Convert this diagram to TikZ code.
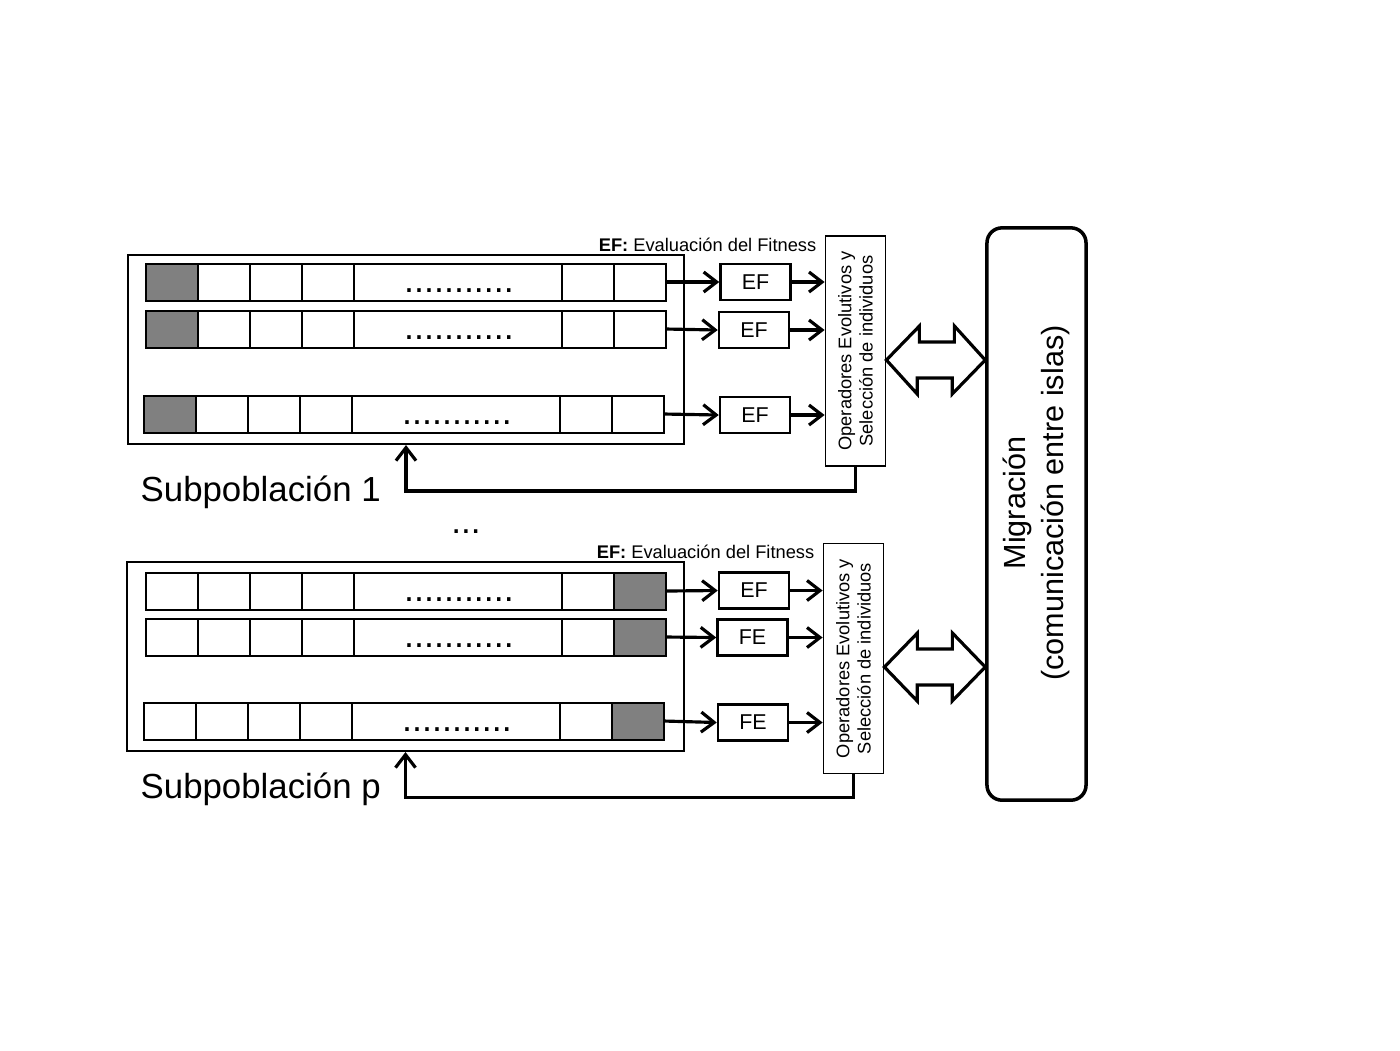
\documentclass[tikz,border=0pt]{standalone}
\usepackage{fontspec}
\setmainfont{Liberation Sans}
\usetikzlibrary{arrows.meta}
\newcommand{\fila}[4]{
\fill[black!50](#2+#4,#3)--(#2+#4+52,#3)--(#2+#4+52,#3+37)--(#2+#4,#3+37)--cycle;
\foreach \a/\b in {0/52,52/104,104/156,156/208,208/416,416/468,468/520}
 \draw[celda](#2+\a,#3)--(#2+\b,#3)--(#2+\b,#3+37)--(#2+\a,#3+37)--cycle;
\node[puntos] at (#2+313,#3+28) {...........};
\coordinate (#1) at (#2+520,#3+18);
}
\begin{document}
\begin{tikzpicture}[x=0.01cm,y=-0.01cm,
 celda/.style={line width=0.7pt},
 puntos/.style={anchor=base,inner sep=0pt,font=\fontsize{10.2}{12}\selectfont},
 caja/.style={draw,line width=0.55pt,inner sep=0pt,minimum width=5.56cm,minimum height=1.89cm},
 efcaja/.style={draw,line width=0.7pt,minimum width=0.7cm,minimum height=0.36cm,inner sep=0pt,font=\fontsize{6.1}{7}\selectfont},
 opcaja/.style={draw,line width=0.5pt,rotate=90,align=center,inner sep=0pt,minimum width=2.3cm,minimum height=0.6cm,font=\fontsize{5.2}{6}\selectfont},
 flecha/.style={line width=0.9pt,-{Straight Barb[length=1.3mm,width=2mm]}},
 bloque/.style={line width=0.9pt,line join=miter},
 titulo/.style={anchor=base west,inner sep=0pt,font=\fontsize{9.9}{12}\selectfont},
 nota/.style={anchor=base east,inner sep=0pt,font=\fontsize{5.2}{6}\selectfont}]

\useasboundingbox (0,0) rectangle (1400,1050);

% subpoblacion 1
\node[caja] (caja1) at (406,349.5) {};
\fila{r1}{146}{264}{0}
\fila{r2}{146}{311}{0}
\fila{r3}{144}{396}{0}

\node[efcaja] (ef1) at (755.5,282) {EF};
\node[efcaja] (ef2) at (754,330) {EF};
\node[efcaja] (ef3) at (755,415) {EF};

\node[opcaja] (ops1) at (855.5,351) {Operadores Evolutivos y\\Selección de individuos};
\node[nota] (nota1) at (817,251) {\textbf{EF:} Evaluación del Fitness};

\foreach \i in {1,2,3}{
\draw[flecha] (r\i) -- (ef\i.west);
\draw[flecha] (ef\i.east) -- (ef\i.east -| ops1.north);
}
\draw[flecha] (ops1.west) -- ++(0,24) -| (caja1.south);
\node[titulo] (sub1) at (140,501) {Subpoblación 1};

\node[anchor=base,inner sep=0pt,font=\fontsize{10}{12}\selectfont] (etc) at (466,533) {...};

% subpoblacion p
\node[caja] (caja2) at (405.5,656.5) {};
\fila{s1}{146}{573}{468}
\fila{s2}{146}{619}{468}
\fila{s3}{144}{703}{468}

\node[efcaja] (fe1) at (754,590.5) {EF};
\node[efcaja] (fe2) at (752.5,637.5) {FE};
\node[efcaja] (fe3) at (753,722.5) {FE};

\node[opcaja] (ops2) at (853.5,658.5) {Operadores Evolutivos y\\Selección de individuos};
\node[nota] (nota2) at (815,558) {\textbf{EF:} Evaluación del Fitness};

\foreach \i in {1,2,3}{
\draw[flecha] (s\i) -- (fe\i.west);
\draw[flecha] (fe\i.east) -- (fe\i.east -| ops2.north);
}
\draw[flecha] (ops2.west) -- ++(0,23) -| (caja2.south);
\node[titulo] (subp) at (140,798) {Subpoblación p};

% migracion
\node[draw,line width=1pt,rounded corners=0.15cm,minimum width=0.99cm,minimum height=5.72cm] (migra) at (1036.5,514) {};
\node[rotate=90,align=center,inner sep=0pt,font=\fontsize{8.7}{10.8}\selectfont] (migtxt) at (1036,503) {Migración\\(comunicación entre islas)};

\coordinate (m1) at (0,360);
\coordinate (m2) at (0,667);
\draw[bloque] (ops1.south |- m1) -- ++(33,-34) -- ++(0,16) -- ++(35,0) -- ++(0,-16) -- (migra.west |- m1) -- ++(-33,34) -- ++(0,-16) -- ++(-35,0) -- ++(0,16) -- cycle;
\draw[bloque] (ops2.south |- m2) -- ++(33,-34) -- ++(0,16) -- ++(35,0) -- ++(0,-16) -- (migra.west |- m2) -- ++(-33,34) -- ++(0,-16) -- ++(-35,0) -- ++(0,16) -- cycle;

\end{tikzpicture}
\end{document}
